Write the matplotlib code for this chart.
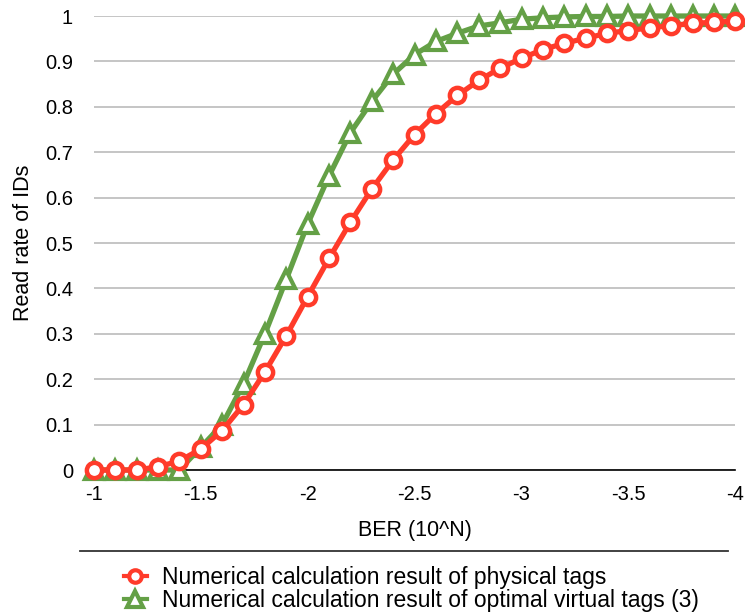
import matplotlib
matplotlib.use("Agg")
import matplotlib.pyplot as plt
from matplotlib.lines import Line2D

plt.rcParams['font.family'] = ['Liberation Sans', 'DejaVu Sans']

# BER exponent N (10^N), step 0.1 from -1 to -4
ber = [-1.0, -1.1, -1.2, -1.3, -1.4, -1.5, -1.6, -1.7, -1.8, -1.9,
       -2.0, -2.1, -2.2, -2.3, -2.4, -2.5, -2.6, -2.7, -2.8, -2.9,
       -3.0, -3.1, -3.2, -3.3, -3.4, -3.5, -3.6, -3.7, -3.8, -3.9, -4.0]

physical = [0.0, 0.0, 0.0, 0.007, 0.02, 0.046, 0.087, 0.144, 0.216, 0.296,
            0.382, 0.466, 0.546, 0.619, 0.683, 0.739, 0.785, 0.825, 0.858, 0.885,
            0.907, 0.926, 0.940, 0.951, 0.962, 0.968, 0.974, 0.979, 0.984, 0.986, 0.989]

virtual = [0.0, 0.0, 0.0, 0.0, 0.0, 0.05, 0.10, 0.19, 0.30, 0.42,
           0.542, 0.648, 0.743, 0.812, 0.872, 0.915, 0.944, 0.962, 0.978, 0.985,
           0.993, 0.996, 0.998, 0.999, 0.999, 1.0, 1.0, 1.0, 1.0, 1.0, 1.0]

x_ticks = [-1, -1.5, -2, -2.5, -3, -3.5, -4]
x_tick_labels = ["-1", "-1.5", "-2", "-2.5", "-3", "-3.5", "-4"]
y_ticks = [0, 0.1, 0.2, 0.3, 0.4, 0.5, 0.6, 0.7, 0.8, 0.9, 1]
y_tick_labels = ["0", "0.1", "0.2", "0.3", "0.4", "0.5", "0.6", "0.7", "0.8", "0.9", "1"]

labels = ["Numerical calculation result of physical tags",
          "Numerical calculation result of optimal virtual tags (3)"]

RED = "#FF3B2A"
GREEN = "#64A046"

fig = plt.figure(figsize=(7.45, 6.16), dpi=100)
ax = fig.add_axes([0.126, 0.237, 0.861, 0.737])

ax.plot(ber, virtual, color=GREEN, lw=3.8, marker="^", ms=13,
        mfc="white", mec=GREEN, mew=3, clip_on=False, zorder=3)
ax.plot(ber, physical, color=RED, lw=3.8, marker="o", ms=11,
        mfc="white", mec=RED, mew=3.2, clip_on=False, zorder=4)

ax.set_xlim(-1, -4)
ax.set_ylim(0, 1)
ax.set_xticks(x_ticks)
ax.set_xticklabels(x_tick_labels)
ax.set_yticks(y_ticks)
ax.set_yticklabels(y_tick_labels)
ax.tick_params(axis="both", length=0, labelsize=14.5, colors="black")
ax.tick_params(axis="x", pad=11)
ax.tick_params(axis="y", pad=15)

ax.grid(axis="y", color="#BBBBBB", lw=1.2)
ax.set_axisbelow(True)
for side in ("left", "right", "top"):
    ax.spines[side].set_visible(False)
ax.spines["bottom"].set_color("black")
ax.spines["bottom"].set_linewidth(1.2)
ax.spines["bottom"].set_zorder(2.5)

ax.set_xlabel("BER (10^N)", fontsize=15.5, labelpad=11)
ax.set_ylabel("Read rate of IDs", fontsize=15.5, labelpad=8)

# separator line above the legend
fig.add_artist(Line2D([80 / 745, 728 / 745], [1 - 551 / 616, 1 - 551 / 616],
                      color="#333333", lw=1.3, transform=fig.transFigure))

handles = [
    Line2D([], [], color=RED, lw=3, marker="o", ms=9, mfc="white", mec=RED, mew=3),
    Line2D([], [], color=GREEN, lw=3, marker="^", ms=11, mfc="white", mec=GREEN, mew=3),
]
fig.legend(handles, labels, loc="upper left", bbox_to_anchor=(124 / 745, 1 - 566 / 616),
           frameon=False, fontsize=16.5, handlelength=1.0, handletextpad=0.65,
           labelspacing=0.0, borderpad=0, borderaxespad=0)

fig.savefig("out.png", dpi=100, facecolor="white")
